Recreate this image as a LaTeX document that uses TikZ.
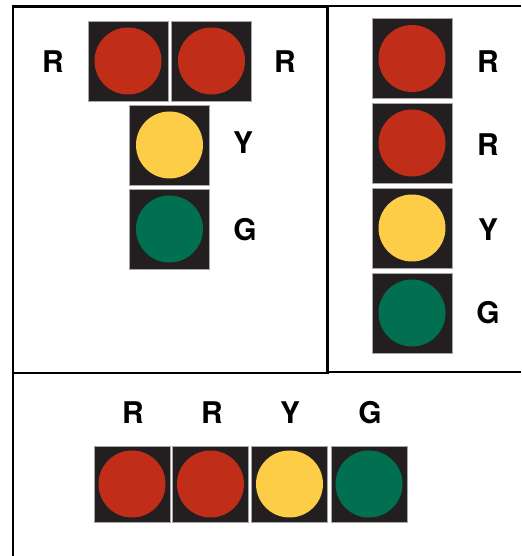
\documentclass[tikz,border=0pt]{standalone}
\usepackage{fontspec}
\setmainfont{TeX Gyre Heros}
\definecolor{housing}{RGB}{35,31,32}
\definecolor{lampred}{RGB}{192,46,26}
\definecolor{lampyellow}{RGB}{253,205,72}
\definecolor{lampgreen}{RGB}{0,112,80}
\begin{document}
\begin{tikzpicture}[
  lamp/.style={rectangle, fill=housing, draw=black!35, line width=0.4pt, minimum size=1.6cm, inner sep=0pt,
    path picture={\fill[#1] (path picture bounding box.center) circle (0.67cm);}},
  tag/.style={font=\fontsize{17}{20}\selectfont\bfseries}
]
\useasboundingbox (0,0) rectangle (10.42,11.12);
% panel frames
\draw[line width=1.7pt] (0.26,10.98) rectangle (6.54,3.66);
\draw[line width=1.1pt] (6.54,11.0) -- (10.42,11.0);
\draw[line width=1.1pt] (6.54,3.68) -- (10.42,3.68);
\draw[line width=1.7pt] (0.26,3.66) -- (0.26,0);

% left panel: two reds side by side
\node[lamp=lampred] (l1) at (2.56,9.90) {};
\node[lamp=lampred] (l2) at (4.23,9.90) {};
\node[lamp=lampyellow] (l3) at (3.39,8.22) {};
\node[lamp=lampgreen] (l4) at (3.39,6.54) {};
\node[tag] (tl1) at (1.06,9.88) {R};
\node[tag] (tl2) at (5.70,9.88) {R};
\node[tag] (tl3) at (4.86,8.26) {Y};
\node[tag] (tl4) at (4.90,6.52) {G};

% right panel: vertical
\node[lamp=lampred] (v1) at (8.24,9.95) {};
\node[lamp=lampred] (v2) at (8.24,8.26) {};
\node[lamp=lampyellow] (v3) at (8.24,6.56) {};
\node[lamp=lampgreen] (v4) at (8.24,4.86) {};
\node[tag] (tv1) at (9.76,9.88) {R};
\node[tag] (tv2) at (9.76,8.22) {R};
\node[tag] (tv3) at (9.76,6.52) {Y};
\node[tag] (tv4) at (9.76,4.86) {G};

% bottom panel: horizontal
\node[lamp=lampred, minimum size=1.52cm] (h1) at (2.64,1.44) {};
\node[lamp=lampred, minimum size=1.52cm] (h2) at (4.21,1.44) {};
\node[lamp=lampyellow, minimum size=1.52cm] (h3) at (5.79,1.44) {};
\node[lamp=lampgreen, minimum size=1.52cm] (h4) at (7.38,1.44) {};
\node[tag] (th1) at (2.66,2.86) {R};
\node[tag] (th2) at (4.24,2.86) {R};
\node[tag] (th3) at (5.80,2.86) {Y};
\node[tag] (th4) at (7.40,2.86) {G};
\end{tikzpicture}
\end{document}
